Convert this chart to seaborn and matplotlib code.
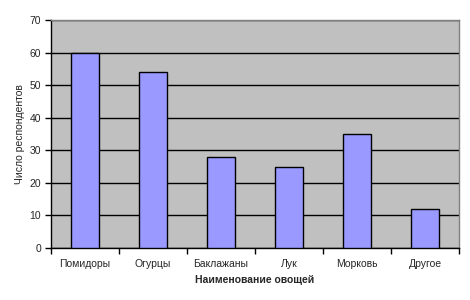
import matplotlib
matplotlib.use("Agg")
import matplotlib.pyplot as plt
import seaborn as sns
import pandas as pd
import numpy as np
from matplotlib.ticker import FixedLocator

categories = ["Помидоры", "Огурцы", "Баклажаны", "Лук", "Морковь", "Другое"]
values = [60, 54, 28, 25, 35, 12]
yticks = [0, 10, 20, 30, 40, 50, 60, 70]

df = pd.DataFrame({"cat": categories, "val": values})

sns.set_style("white")
plt.rcParams["font.family"] = ["Liberation Sans", "DejaVu Sans"]

fig = plt.figure(figsize=(4.7, 3.0), dpi=100)
ax = fig.add_axes([51/470, 1 - 248/300, 408/470, 228/300])
ax.set_facecolor("#C0C0C0")

sns.barplot(data=df, x="cat", y="val", color="#9999FF", width=0.41,
            edgecolor="black", linewidth=1.0, saturation=1, ax=ax, zorder=3)

ax.set_ylim(0, 70)
ax.set_xlim(-0.5, len(categories) - 0.5)
ax.set_yticks(yticks)
ax.yaxis.grid(True, color="black", linewidth=1.0, zorder=1)
ax.set_axisbelow(True)

ax.tick_params(axis="y", direction="out", length=4, width=1, color="black",
               labelsize=7.5, pad=3, left=True)
ax.tick_params(axis="x", which="major", length=0, labelsize=7.5, pad=8)
ax.xaxis.set_minor_locator(FixedLocator(np.arange(-0.5, len(categories), 1.0)))
ax.tick_params(axis="x", which="minor", direction="out", length=4, width=1,
               color="black", bottom=True)

for s in ["left", "bottom"]:
    ax.spines[s].set_color("black")
    ax.spines[s].set_linewidth(1.0)
for s in ["top", "right"]:
    ax.spines[s].set_visible(True)
    ax.spines[s].set_color("#808080")
    ax.spines[s].set_linewidth(1.0)

ax.set_xlabel("Наименование овощей", fontsize=7.5, fontweight="bold", labelpad=4)
ax.set_ylabel("Число респондентов", fontsize=7.5, labelpad=3)

fig.savefig("out.png", dpi=100)
